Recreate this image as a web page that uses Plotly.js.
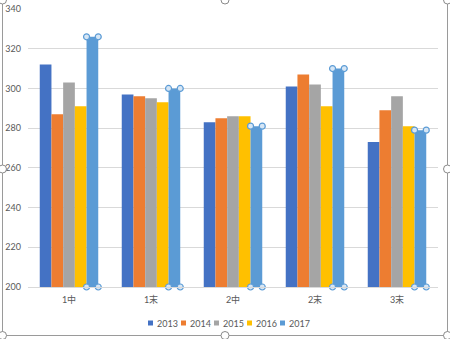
<!DOCTYPE html>
<html>
<head>
<meta charset="utf-8">
<script src="https://cdn.plot.ly/plotly-3.0.1.min.js"></script>
<style>html,body{margin:0;padding:0;background:#fff;}#chart{width:450px;height:339px;}</style>
</head>
<body>
<div id="chart"></div>
<script>
// ---- data ----
const categories = ["1中", "1末", "2中", "2末", "3末"];
const seriesNames = ["2013", "2014", "2015", "2016", "2017"];
const v2013 = [312, 297, 283, 301, 273];
const v2014 = [287, 296, 285, 307, 289];
const v2015 = [303, 295, 286, 302, 296];
const v2016 = [291, 293, 286, 291, 281];
const v2017 = [326, 300, 281, 310, 279];
const yTicks = [200, 220, 240, 260, 280, 300, 320, 340];

// ---- styling ----
const colors = ["#4472C4", "#ED7D31", "#A5A5A5", "#FFC000", "#5B9BD5"];
const allValues = [v2013, v2014, v2015, v2016, v2017];
const idx = categories.map((c, i) => i);
const barW = 0.1427;
const groupW = barW * seriesNames.length;
const font = {family: "Lato, 'Noto Sans CJK JP', sans-serif", size: 9, color: "#595959"};

const traces = seriesNames.map((name, k) => ({
  type: "bar",
  name: name,
  x: idx,
  y: allValues[k],
  width: barW,
  offset: -groupW / 2 + k * barW,
  marker: {color: colors[k], line: {width: 0}},
  showlegend: false,
  hoverinfo: "name+y"
}));

// selection handles on the 2017 series (corners of each bar)
const selK = 4;
const hx = [], hy = [];
idx.forEach(i => {
  const left = i - groupW / 2 + selK * barW;
  const right = left + barW;
  hx.push(left, right, left, right);
  hy.push(allValues[selK][i], allValues[selK][i], yTicks[0], yTicks[0]);
});
traces.push({
  type: "scatter", mode: "markers", x: hx, y: hy, showlegend: false, hoverinfo: "skip",
  cliponaxis: false,
  marker: {symbol: "circle", size: 6, color: "#d6e6f5", line: {color: "#5B9BD5", width: 1.2}}
});

// layout geometry (pixels) -> paper units
const L = 28, R = 12, T = 9, B = 52, W = 450, H = 339;
const pw = W - L - R, ph = H - T - B;
const px = p => (p - L) / pw;
const py = q => (H - B - q) / ph;

// chart-frame outline + selection handles
const shapes = [{
  type: "rect", xref: "paper", yref: "paper",
  x0: px(2.5), x1: px(447.5), y0: py(335.5), y1: py(-0.5),
  line: {color: "#9a9a9a", width: 1}, fillcolor: "rgba(0,0,0,0)", layer: "below"
}];
[[2.5, 0], [225, 0], [447.5, 0], [447.5, 169], [447.5, 335.5], [225, 335.5], [2.5, 335.5], [2.5, 169]].forEach(([a, b]) => {
  shapes.push({
    type: "circle", xref: "paper", yref: "paper", xsizemode: "pixel", ysizemode: "pixel",
    xanchor: px(a), yanchor: py(b), x0: -4, x1: 4, y0: -4, y1: 4,
    line: {color: "#8a8a8a", width: 1}, fillcolor: "#ffffff"
  });
});

// compact Excel-style legend: colour square + label
const annotations = [];
const legX0 = 148, legStep = 33, legY = 323;
seriesNames.forEach((name, k) => {
  const sx = legX0 + k * legStep;
  shapes.push({
    type: "rect", xref: "paper", yref: "paper", xsizemode: "pixel", ysizemode: "pixel",
    xanchor: px(sx), yanchor: py(legY), x0: 0, x1: 5, y0: -2.5, y1: 2.5,
    line: {width: 0}, fillcolor: colors[k]
  });
  annotations.push({
    xref: "paper", yref: "paper", x: px(sx + 6.5), y: py(legY),
    xanchor: "left", yanchor: "middle", showarrow: false,
    text: name, font: font
  });
});

const layout = {
  width: W, height: H,
  margin: {l: L, r: R, t: T, b: B, pad: 0},
  paper_bgcolor: "#ffffff", plot_bgcolor: "#ffffff",
  font: font,
  barmode: "overlay",
  showlegend: false,
  xaxis: {
    range: [-0.5, categories.length - 0.5],
    tickmode: "array", tickvals: idx, ticktext: categories,
    showgrid: false, zeroline: false, showline: true, linecolor: "#d9d9d9", linewidth: 1,
    ticks: "", ticklabelstandoff: 4, fixedrange: true, automargin: false
  },
  yaxis: {
    range: [yTicks[0], yTicks[yTicks.length - 1]],
    tickmode: "array", tickvals: yTicks,
    showgrid: true, gridcolor: "#d9d9d9", gridwidth: 1,
    zeroline: false, showline: false, ticks: "", ticklabelstandoff: 6, fixedrange: true, automargin: false
  },
  shapes: shapes,
  annotations: annotations
};

Plotly.newPlot("chart", traces, layout, {displayModeBar: false, staticPlot: true});
</script>
</body>
</html>
